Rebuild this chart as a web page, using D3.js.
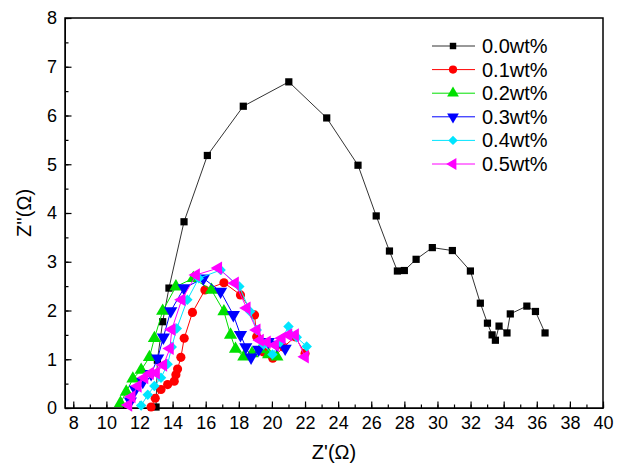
<!DOCTYPE html>
<html>
<head>
<meta charset="utf-8">
<script src="https://cdn.jsdelivr.net/npm/d3@7"></script>
<style>
  body { margin: 0; background: #fff; }
  text { font-family: "Liberation Sans", Arial, sans-serif; }
</style>
</head>
<body>
<div id="chart-area"></div>
<script>
// series values: [Z', Z'']
const s00 = [[13.0,0.02],[13.08,0.98],[13.4,1.77],[13.78,2.46],[14.69,3.82],[16.1,5.18],[18.27,6.19],[21.02,6.69],
             [23.31,5.95],[25.2,4.98],[26.3,3.94],[27.1,3.22],[27.58,2.81],[28.0,2.82],[28.71,3.05],[29.69,3.29],
             [30.9,3.23],[31.99,2.81],[32.59,2.15],[33.02,1.74],[33.3,1.5],[33.5,1.39],[33.72,1.68],[34.2,1.54],
             [34.4,1.93],[35.4,2.09],[35.92,1.98],[36.5,1.54]];
const s01 = [[12.7,0.02],[12.95,0.2],[13.3,0.38],[13.7,0.48],[14.1,0.55],[14.2,0.68],[14.3,0.8],[14.5,1.04],
             [14.7,1.43],[15.2,1.96],[15.95,2.42],[17.1,2.57],[18.1,2.32],[18.95,1.91],[19.08,1.46],[19.5,1.15],
             [20.05,1.02],[20.7,1.25],[21.4,1.46],[22.0,1.12]];
const s02 = [[10.85,0.1],[11.2,0.33],[11.6,0.6],[12.1,0.78],[12.6,1.04],[12.9,1.43],[13.4,1.99],[14.2,2.49],
             [15.25,2.66],[16.35,2.42],[17.1,1.98],[17.5,1.5],[17.8,1.21],[18.3,1.05],[18.8,1.12],[19.3,1.2],
             [19.8,1.1],[20.3,1.05]];
const s03 = [[11.45,0.14],[11.75,0.38],[12.2,0.54],[12.7,0.7],[13.1,1.02],[13.44,1.45],[13.89,1.99],[14.69,2.46],
             [15.86,2.66],[16.9,2.39],[17.67,1.91],[18.1,1.5],[18.42,1.25],[18.74,1.04],[19.2,1.2],[19.78,1.36],
             [20.3,1.3],[20.8,1.22]];
const s04 = [[12.1,0.05],[12.5,0.27],[12.9,0.45],[13.3,0.62],[13.7,0.9],[13.95,1.25],[14.25,1.63],[14.89,2.22],
             [15.58,2.66],[16.9,2.83],[18.03,2.49],[18.68,1.98],[19.08,1.6],[19.5,1.3],[20.03,1.1],[20.5,1.35],
             [21.0,1.67],[21.5,1.45],[22.1,1.26]];
const s05 = [[11.33,0.06],[11.53,0.23],[11.9,0.45],[12.3,0.62],[12.64,0.71],[13.0,0.72],[13.44,0.88],[13.84,1.22],
             [13.95,1.61],[14.55,2.22],[15.42,2.73],[16.76,2.87],[17.77,2.56],[18.48,2.05],[19.08,1.6],[19.28,1.39],
             [19.7,1.35],[20.19,1.29],[20.6,1.43],[21.0,1.5],[21.4,1.5],[22.0,1.05]];

const names = ["0.0wt%", "0.1wt%", "0.2wt%", "0.3wt%", "0.4wt%", "0.5wt%"];
const values = [s00, s01, s02, s03, s04, s05];
const xTicks = d3.range(8, 41, 2);
const yTicks = d3.range(0, 9, 1);

const colors = ["#000000", "#ff0000", "#00e000", "#0000ff", "#00e5ff", "#ff00ff"];
const lineColors = ["#333333", "#ff0000", "#00e000", "#0000ff", "#00e5ff", "#ff00ff"];
const shapes = [
  {type: d3.symbolSquare, size: 52, rot: 0},
  {type: d3.symbolCircle, size: 66, rot: 0},
  {type: d3.symbolTriangle, size: 75, rot: 0},
  {type: d3.symbolTriangle, size: 75, rot: 180},
  {type: d3.symbolSquare, size: 55, rot: 45},
  {type: d3.symbolTriangle, size: 75, rot: -90}
];

let svg = d3.select("#chart-area")
            .append("svg")
            .attr("width", 624)
            .attr("height", 463);

let x = d3.scaleLinear().domain([7.5, 40]).range([65, 603]);
let y = d3.scaleLinear().domain([0, 8]).range([408, 18]);

// minor ticks
svg.append("g")
   .attr("transform", "translate(0,408)")
   .call(d3.axisBottom(x).tickValues(d3.range(8, 41, 1)).tickSize(-3.5).tickSizeOuter(0).tickFormat(""))
   .call(g => g.select(".domain").remove());
svg.append("g")
   .attr("transform", "translate(65,0)")
   .call(d3.axisLeft(y).tickValues(d3.range(0, 8.01, 0.5)).tickSize(-3.5).tickSizeOuter(0).tickFormat(""))
   .call(g => g.select(".domain").remove());

// major ticks
let xAxis = svg.append("g")
   .attr("transform", "translate(0,408)")
   .call(d3.axisBottom(x).tickValues(xTicks).tickSize(-6.5).tickSizeOuter(0).tickPadding(8));
let yAxis = svg.append("g")
   .attr("transform", "translate(65,0)")
   .call(d3.axisLeft(y).tickValues(yTicks).tickSize(-6.5).tickSizeOuter(0).tickPadding(8));

[xAxis, yAxis].forEach(g => {
  g.selectAll("text").attr("font-size", 18).attr("fill", "#000")
   .style("font-family", "'Liberation Sans', Arial, sans-serif");
});
svg.selectAll(".tick line").attr("stroke", "#000").attr("stroke-width", 1.2);

// frame
svg.append("rect")
   .attr("x", 65).attr("y", 18)
   .attr("width", 538).attr("height", 390)
   .attr("fill", "none")
   .attr("stroke", "#000")
   .attr("stroke-width", 1.5);

// axis titles
svg.append("text")
   .attr("x", 334).attr("y", 459)
   .attr("text-anchor", "middle")
   .attr("font-size", 20)
   .text("Z'(Ω)");
svg.append("text")
   .attr("transform", "translate(31,213) rotate(-90)")
   .attr("text-anchor", "middle")
   .attr("font-size", 20)
   .text("Z''(Ω)");

let line = d3.line().x(d => x(d[0])).y(d => y(d[1]));

values.forEach((data, i) => {
  let g = svg.append("g");
  g.append("path")
   .datum(data)
   .attr("d", line)
   .attr("fill", "none")
   .attr("stroke", lineColors[i])
   .attr("stroke-width", 1);
  g.selectAll("path.pt")
   .data(data)
   .enter().append("path")
   .attr("class", "pt")
   .attr("d", d3.symbol().type(shapes[i].type).size(shapes[i].size))
   .attr("transform", d => "translate(" + x(d[0]) + "," + y(d[1]) + ") rotate(" + shapes[i].rot + ")")
   .attr("fill", colors[i]);
});

// legend
let legend = svg.append("g");
names.forEach((name, i) => {
  let ly = 46 + i * 23.6;
  legend.append("line")
        .attr("x1", 432).attr("x2", 475)
        .attr("y1", ly).attr("y2", ly)
        .attr("stroke", lineColors[i])
        .attr("stroke-width", 1);
  legend.append("path")
        .attr("d", d3.symbol().type(shapes[i].type).size(shapes[i].size * 0.8))
        .attr("transform", "translate(453," + ly + ") rotate(" + shapes[i].rot + ")")
        .attr("fill", colors[i]);
  legend.append("text")
        .attr("x", 482).attr("y", ly + 7)
        .attr("font-size", 20)
        .text(name);
});
</script>
</body>
</html>
